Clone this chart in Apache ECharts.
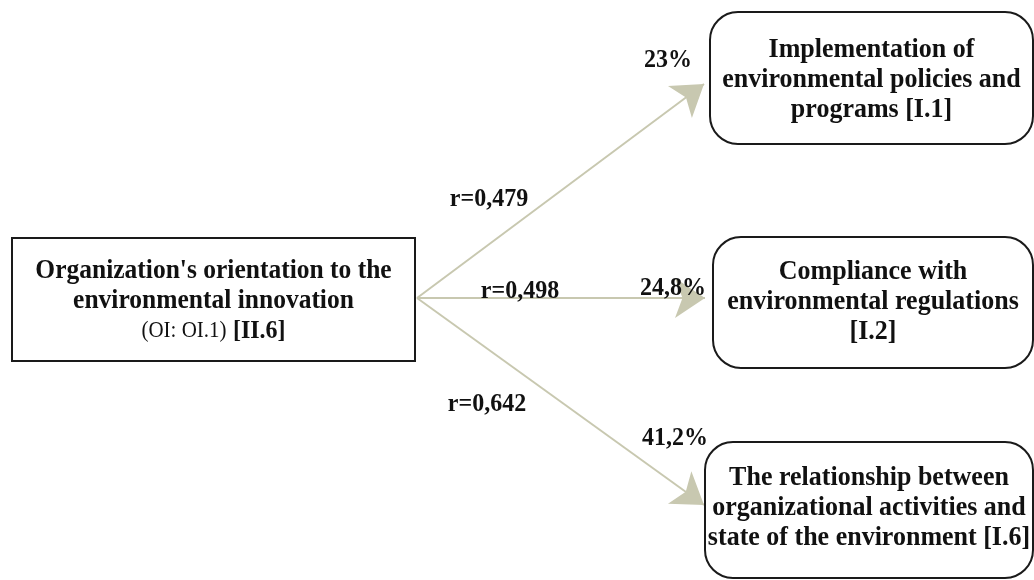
<!DOCTYPE html>
<html>
<head>
<meta charset="utf-8">
<script src="https://cdn.jsdelivr.net/npm/echarts@6/dist/echarts.min.js"></script>
<style>
  html, body { margin: 0; padding: 0; background: #fff; }
  #chart { width: 1034px; height: 580px; }
</style>
</head>
<body>
<div id="chart"></div>
<script>
// source node + three outcome nodes
const sourceLines = ["Organization's orientation to the", "environmental innovation", "{s|(OI: OI.1)} {b|[II.6]}"];
const targetNames = [
  "Implementation of\nenvironmental policies and\nprograms [I.1]",
  "Compliance with\nenvironmental regulations\n[I.2]",
  "The relationship between\norganizational activities and\nstate of the environment [I.6]"
];
const correlations = ["r=0,479", "r=0,498", "r=0,642"];
const shares = ["23%", "24,8%", "41,2%"];

// layout (pixel space of the 1034x580 canvas)
const sourceBox = [12, 238, 415, 361];
const targetBoxes = [
  [710, 12, 1033, 144],
  [713, 237, 1033, 368],
  [705, 442, 1033, 578]
];
const textShift = [2, 2, -1, -2];
const arrowStart = [417, 298];
const arrowEnds = [[704, 84], [705, 298], [704, 505]];
const corrPos = [[489, 199], [520, 291], [487, 404]];
const sharePos = [[668, 60], [673, 288], [675, 438]];

const font = "'Liberation Serif', 'Times New Roman', serif";
const arrowColor = "#c8c8b0";
const stretch = 1.06;

const chart = echarts.init(document.getElementById("chart"));

function boxItem(params, api) {
  const p0 = api.coord([api.value(0), api.value(1)]);
  const p1 = api.coord([api.value(2), api.value(3)]);
  const idx = params.dataIndex;
  const isSource = idx === 0;
  const text = isSource ? sourceLines.join("\n") : targetNames[idx - 1];
  return {
    type: "group",
    children: [
      {
        type: "rect",
        shape: { x: p0[0], y: p0[1], width: p1[0] - p0[0], height: p1[1] - p0[1], r: isSource ? 0 : 28 },
        style: { fill: "#fff", stroke: "#1a1a1a", lineWidth: 2 }
      },
      {
        type: "text",
        x: (p0[0] + p1[0]) / 2,
        y: (p0[1] + p1[1]) / 2 + textShift[idx],
        scaleY: stretch,
        style: {
          text: text,
          align: "center",
          verticalAlign: "middle",
          font: "bold " + (isSource ? 25.5 : 26) + "px " + font,
          lineHeight: 30 / stretch,
          fill: "#111",
          rich: {
            s: { font: "21px " + font, fill: "#111", lineHeight: 30 / stretch },
            b: { font: "bold 24px " + font, fill: "#111", lineHeight: 30 / stretch }
          }
        }
      }
    ]
  };
}

function labelItem(params, api) {
  const p = api.coord([api.value(0), api.value(1)]);
  return {
    type: "text",
    x: p[0],
    y: p[1],
    scaleY: 1.05,
    style: {
      text: labelData[params.dataIndex].name,
      align: "center",
      verticalAlign: "middle",
      font: "bold 24px " + font,
      fill: "#111"
    }
  };
}

const boxData = [sourceBox].concat(targetBoxes);
const arrowData = arrowEnds.map(e => ({ coords: [arrowStart, e] }));
const labelData = correlations.map((t, i) => ({ value: corrPos[i], name: t }))
  .concat(shares.map((t, i) => ({ value: sharePos[i], name: t })));

chart.setOption({
  animation: false,
  grid: { left: 0, right: 0, top: 0, bottom: 0 },
  xAxis: { type: "value", min: 0, max: 1034, show: false },
  yAxis: { type: "value", min: 0, max: 580, inverse: true, show: false },
  series: [
    {
      type: "lines",
      coordinateSystem: "cartesian2d",
      symbol: ["none", "arrow"],
      symbolSize: [24, 30],
      lineStyle: { color: arrowColor, width: 2, opacity: 1 },
      itemStyle: { color: arrowColor },
      data: arrowData,
      z: 1
    },
    {
      type: "custom",
      renderItem: boxItem,
      data: boxData,
      z: 2
    },
    {
      type: "custom",
      renderItem: labelItem,
      data: labelData,
      z: 3
    }
  ]
});
</script>
</body>
</html>
